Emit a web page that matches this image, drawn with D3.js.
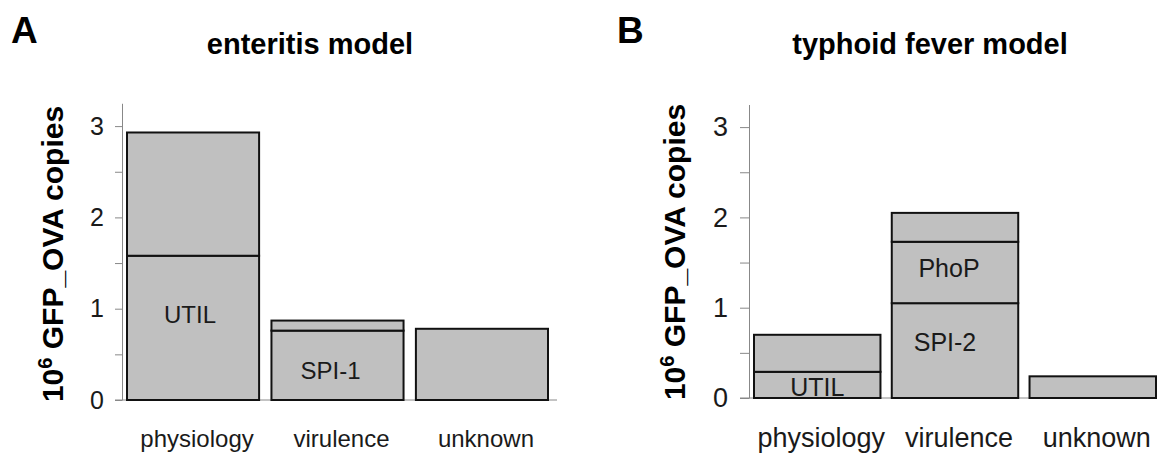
<!DOCTYPE html>
<html lang="en">
  <head>
    <meta charset="utf-8" />
    <title>GFP_OVA copies</title>
    <script src="https://cdn.jsdelivr.net/npm/d3@7"></script>
    <style>
      body {
        margin: 0;
        background: #fff;
      }
      svg {
        display: block;
        font-family: "Liberation Sans", Arial, sans-serif;
      }
      .bar {
        fill: #c0c0c0;
        stroke: #111;
        stroke-width: 2;
      }
      .axis path, .axis line, .baseline {
        stroke: #888;
        stroke-width: 1;
        fill: none;
      }
      .axis text {
        fill: #1a1a1a;
      }
    </style>
  </head>
  <body>
    <svg width="1157" height="454"></svg>
    <script>

    // data (units: 10^6 copies)
    var categories = ["physiology", "virulence", "unknown"];
    var yTicks = [0, 0.5, 1, 1.5, 2, 2.5, 3];

    var enteritisTotals = [2.93, 0.87, 0.78];
    var enteritisSplits = [[1.58], [0.76], []];
    var enteritisLabels = [
      {cat: "physiology", text: "UTIL", at: 0.94},
      {cat: "virulence", text: "SPI-1", at: 0.33}
    ];

    var typhoidTotals = [0.70, 2.05, 0.24];
    var typhoidSplits = [[0.29], [1.05, 1.73], []];
    var typhoidLabels = [
      {cat: "physiology", text: "UTIL", at: 0.12},
      {cat: "virulence", text: "PhoP", at: 1.44},
      {cat: "virulence", text: "SPI-2", at: 0.62}
    ];

    var svg = d3.select("svg");

    function segments(totals, splits) {
      var out = [];
      categories.forEach(function(c, i) {
        var edges = [0].concat(splits[i], [totals[i]]);
        for (var k = 0; k < edges.length - 1; k++) {
          out.push({cat: c, y0: edges[k], y1: edges[k + 1]});
        }
      });
      return out;
    }

    function drawPanel(p) {
      var g = svg.append("g");

      var x = d3.scaleBand()
          .domain(categories)
          .range([p.barLeft, p.barRight])
          .paddingInner(p.gap / ((p.barRight - p.barLeft) / 3))
          .paddingOuter(0);

      var y = d3.scaleLinear()
          .domain([0, 3.25])
          .range([p.y0, p.y0 - 3.25 * p.unit]);

      // panel letter and title
      g.append("text")
          .attr("x", p.letterX)
          .attr("y", 43)
          .style("font-size", "37px")
          .style("font-weight", "bold")
          .text(p.letter);

      g.append("text")
          .attr("x", p.titleX)
          .attr("y", 54)
          .attr("text-anchor", "middle")
          .style("font-size", "29px")
          .style("font-weight", "bold")
          .text(p.title);

      // y axis label with superscript
      var lab = g.append("text")
          .attr("transform", "translate(" + p.labelX + "," + (p.y0 - 146) + ") rotate(-90)")
          .attr("text-anchor", "middle")
          .style("font-size", "30px")
          .style("font-weight", "bold");
      lab.append("tspan").text("10");
      lab.append("tspan").attr("dy", -11).style("font-size", "20px").text("6");
      lab.append("tspan").attr("dy", 11).text(" GFP_OVA copies");

      // baseline
      g.append("line")
          .attr("class", "baseline")
          .attr("x1", p.axisX - p.tick)
          .attr("x2", p.baseRight)
          .attr("y1", y(0))
          .attr("y2", y(0));

      var axis = g.append("g")
          .attr("class", "axis")
          .attr("transform", "translate(" + p.axisX + ",0)")
          .call(d3.axisLeft(y)
              .tickValues(yTicks)
              .tickSize(p.tick)
              .tickSizeOuter(0)
              .tickPadding(p.pad)
              .tickFormat(function(d) { return Number.isInteger(d) ? d : ""; }));
      axis.selectAll("text")
          .style("font-size", p.tickFont + "px")
          .style("font-family", "Liberation Sans, Arial, sans-serif");

      // stacked bars
      g.selectAll(".bar")
          .data(segments(p.totals, p.splits))
          .enter().append("rect")
          .attr("class", "bar")
          .attr("x", function(d) { return x(d.cat); })
          .attr("width", x.bandwidth())
          .attr("y", function(d) { return y(d.y1); })
          .attr("height", function(d) { return y(d.y0) - y(d.y1); });

      // labels inside bars
      g.selectAll(".seg-label")
          .data(p.labels)
          .enter().append("text")
          .attr("class", "seg-label")
          .attr("x", function(d) { return x(d.cat) + x.bandwidth() / 2 + p.segDx[d.text]; })
          .attr("y", function(d) { return y(d.at); })
          .attr("dy", "0.36em")
          .attr("text-anchor", "middle")
          .style("font-size", p.segFont + "px")
          .style("fill", "#1a1a1a")
          .text(function(d) { return d.text; });

      // category labels
      g.selectAll(".cat-label")
          .data(categories)
          .enter().append("text")
          .attr("class", "cat-label")
          .attr("x", function(d) { return x(d) + x.bandwidth() / 2 + 4; })
          .attr("y", 447)
          .attr("text-anchor", "middle")
          .style("font-size", p.catFont + "px")
          .style("fill", "#1a1a1a")
          .text(function(d) { return d; });
    }

    drawPanel({
      letter: "A", letterX: 11, title: "enteritis model", titleX: 310,
      labelX: 63, axisX: 122, tick: 7, pad: 11, tickFont: 25,
      y0: 400, unit: 91.3,
      barLeft: 127, barRight: 548, gap: 12, baseRight: 557,
      totals: enteritisTotals, splits: enteritisSplits, labels: enteritisLabels,
      segDx: {"UTIL": -3, "SPI-1": -7}, segFont: 24, catFont: 24
    });

    drawPanel({
      letter: "B", letterX: 617, title: "typhoid fever model", titleX: 930,
      labelX: 685, axisX: 749, tick: 9, pad: 12, tickFont: 27,
      y0: 398, unit: 90.3,
      barLeft: 754, barRight: 1156, gap: 11, baseRight: 1157,
      totals: typhoidTotals, splits: typhoidSplits, labels: typhoidLabels,
      segDx: {"UTIL": 0, "PhoP": -6, "SPI-2": -10}, segFont: 25, catFont: 27
    });

    </script>
  </body>
</html>
